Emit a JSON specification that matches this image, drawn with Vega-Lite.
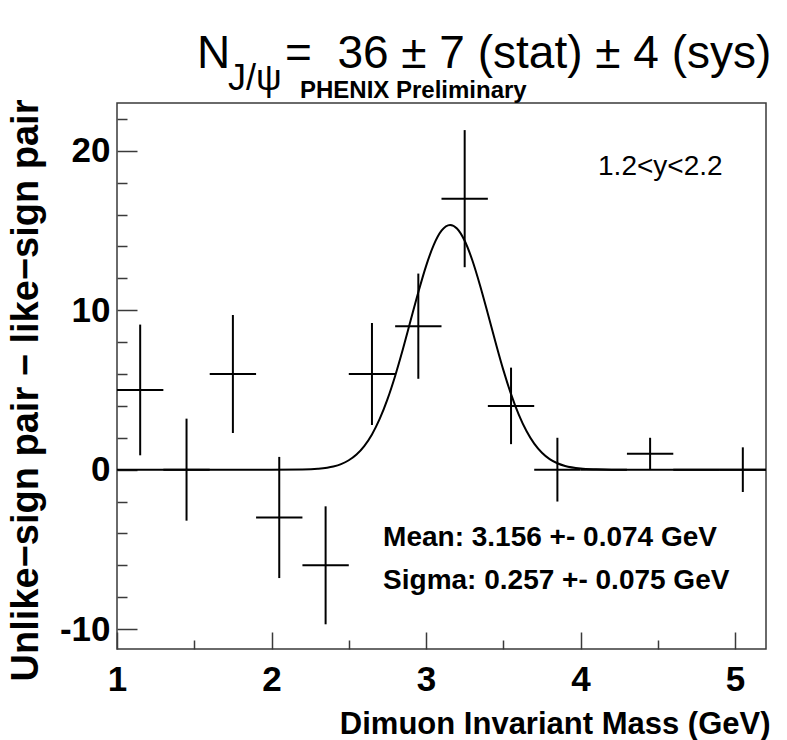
{
  "$schema": "https://vega.github.io/schema/vega-lite/v6.json",
  "width": 649,
  "height": 546,
  "autosize": "none",
  "padding": {"left": 117, "top": 103, "right": 21, "bottom": 91},
  "background": "white",
  "config": {
    "view": {"stroke": "#3a3a3a", "strokeWidth": 1.5},
    "axis": {"grid": false, "domain": false, "tickColor": "#3a3a3a", "tickWidth": 1.5, "labelColor": "black", "titleColor": "black"}
  },
  "datasets": {
    "fit": [
      {"mass": 1.0, "counts": 0}, {"mass": 2.0, "counts": 0}, {"mass": 2.2, "counts": 0.015},
      {"mass": 2.3, "counts": 0.06}, {"mass": 2.4, "counts": 0.2}, {"mass": 2.45, "counts": 0.35},
      {"mass": 2.5, "counts": 0.59}, {"mass": 2.55, "counts": 0.95}, {"mass": 2.6, "counts": 1.48},
      {"mass": 2.65, "counts": 2.21}, {"mass": 2.7, "counts": 3.18}, {"mass": 2.75, "counts": 4.41},
      {"mass": 2.8, "counts": 5.88}, {"mass": 2.85, "counts": 7.55}, {"mass": 2.9, "counts": 9.35},
      {"mass": 2.95, "counts": 11.13}, {"mass": 3.0, "counts": 12.77}, {"mass": 3.05, "counts": 14.1},
      {"mass": 3.1, "counts": 14.99}, {"mass": 3.156, "counts": 15.35}, {"mass": 3.2, "counts": 15.13},
      {"mass": 3.25, "counts": 14.36}, {"mass": 3.3, "counts": 13.12}, {"mass": 3.35, "counts": 11.54},
      {"mass": 3.4, "counts": 9.78}, {"mass": 3.45, "counts": 7.98}, {"mass": 3.5, "counts": 6.26},
      {"mass": 3.55, "counts": 4.74}, {"mass": 3.6, "counts": 3.45}, {"mass": 3.65, "counts": 2.42},
      {"mass": 3.7, "counts": 1.63}, {"mass": 3.75, "counts": 1.06}, {"mass": 3.8, "counts": 0.66},
      {"mass": 3.85, "counts": 0.4}, {"mass": 3.9, "counts": 0.23}, {"mass": 4.0, "counts": 0.07},
      {"mass": 4.1, "counts": 0.02}, {"mass": 4.2, "counts": 0}, {"mass": 5.2, "counts": 0}
    ],
    "bins": [
      {"mass": 1.15, "lo_mass": 1.0, "hi_mass": 1.3, "counts": 5, "lo": 0.9, "hi": 9.1},
      {"mass": 1.45, "lo_mass": 1.3, "hi_mass": 1.6, "counts": 0, "lo": -3.2, "hi": 3.2},
      {"mass": 1.75, "lo_mass": 1.6, "hi_mass": 1.9, "counts": 6, "lo": 2.3, "hi": 9.7},
      {"mass": 2.05, "lo_mass": 1.9, "hi_mass": 2.2, "counts": -3, "lo": -6.8, "hi": 0.8},
      {"mass": 2.35, "lo_mass": 2.2, "hi_mass": 2.5, "counts": -6, "lo": -9.7, "hi": -2.3},
      {"mass": 2.65, "lo_mass": 2.5, "hi_mass": 2.8, "counts": 6, "lo": 2.8, "hi": 9.2},
      {"mass": 2.95, "lo_mass": 2.8, "hi_mass": 3.1, "counts": 9, "lo": 5.7, "hi": 12.3},
      {"mass": 3.25, "lo_mass": 3.1, "hi_mass": 3.4, "counts": 17, "lo": 12.7, "hi": 21.3},
      {"mass": 3.55, "lo_mass": 3.4, "hi_mass": 3.7, "counts": 4, "lo": 1.6, "hi": 6.4},
      {"mass": 3.85, "lo_mass": 3.7, "hi_mass": 4.0, "counts": 0, "lo": -2.0, "hi": 2.0},
      {"mass": 4.15, "lo_mass": 4.0, "hi_mass": 4.3, "counts": 0, "lo": 0, "hi": 0},
      {"mass": 4.45, "lo_mass": 4.3, "hi_mass": 4.6, "counts": 1, "lo": 0, "hi": 2.0},
      {"mass": 4.75, "lo_mass": 4.6, "hi_mass": 4.9, "counts": 0, "lo": 0, "hi": 0},
      {"mass": 5.05, "lo_mass": 4.9, "hi_mass": 5.2, "counts": 0, "lo": -1.4, "hi": 1.4}
    ]
  },
  "layer": [
    {
      "data": {"name": "fit"},
      "mark": {"type": "line", "color": "black", "strokeWidth": 2, "interpolate": "monotone"},
      "encoding": {
        "x": {
          "field": "mass", "type": "quantitative",
          "scale": {"domain": [1, 5.2], "nice": false, "zero": false},
          "axis": {
            "orient": "bottom", "values": [1, 2, 3, 4, 5], "tickSize": -17,
            "labelFont": "Liberation Sans", "labelFontWeight": "bold", "labelFontSize": 35,
            "labelPadding": 30, "labelFlush": false, "labelOverlap": false, "labelBaseline": "top",
            "format": "d",
            "title": "Dimuon Invariant Mass (GeV)",
            "titleFont": "Liberation Sans", "titleFontWeight": "bold", "titleFontSize": 31,
            "titleAlign": "right", "titleAnchor": "end", "titleBaseline": "alphabetic",
            "titleX": 653, "titleY": 84
          }
        },
        "y": {
          "field": "counts", "type": "quantitative",
          "scale": {"domain": [-11.25, 23], "nice": false, "zero": false},
          "axis": {
            "orient": "left", "values": [-10, 0, 10, 20], "tickSize": -20,
            "labelFont": "Liberation Sans", "labelFontWeight": "bold", "labelFontSize": 35,
            "labelPadding": 27, "labelFlush": false, "labelOverlap": false,
            "labelExpr": "datum.value < 0 ? '-' + abs(datum.value) : '' + datum.value",
            "title": "Unlike\u2212sign pair \u2212 like\u2212sign pair",
            "titleFont": "Liberation Sans", "titleFontWeight": "bold", "titleFontSize": 38,
            "titleAngle": 270, "titleAlign": "center", "titleAnchor": null, "titleBaseline": "alphabetic",
            "titleX": -80, "titleY": 287
          }
        }
      }
    },
    {
      "data": {"name": "bins"},
      "mark": {"type": "rule", "color": "black", "strokeWidth": 2},
      "encoding": {
        "x": {
          "field": "mass", "type": "quantitative",
          "axis": {"orient": "bottom", "values": [1.5, 2.5, 3.5, 4.5], "tickSize": -9, "labels": false, "title": null}
        },
        "y": {
          "field": "lo", "type": "quantitative",
          "axis": {"orient": "left", "values": [-8, -6, -4, -2, 2, 4, 6, 8, 12, 14, 16, 18, 22], "tickSize": -10, "labels": false, "title": null}
        },
        "y2": {"field": "hi"}
      }
    },
    {
      "data": {"name": "bins"},
      "mark": {"type": "rule", "color": "black", "strokeWidth": 2},
      "encoding": {
        "x": {"field": "lo_mass", "type": "quantitative", "axis": null},
        "x2": {"field": "hi_mass"},
        "y": {"field": "counts", "type": "quantitative", "axis": null}
      }
    },
    {
      "data": {"values": [{"note": "1.2<y<2.2"}]},
      "mark": {"type": "text", "font": "Liberation Sans", "fontSize": 28, "align": "left", "baseline": "alphabetic", "color": "black"},
      "encoding": {
        "text": {"field": "note"},
        "x": {"datum": 4.113, "type": "quantitative", "axis": null},
        "y": {"datum": 18.48, "type": "quantitative", "axis": null}
      }
    },
    {
      "data": {"values": [{"note": "Mean: 3.156 +- 0.074 GeV"}]},
      "mark": {"type": "text", "font": "Liberation Sans", "fontWeight": "bold", "fontSize": 28, "align": "left", "baseline": "alphabetic", "color": "black"},
      "encoding": {
        "text": {"field": "note"},
        "x": {"datum": 2.722, "type": "quantitative", "axis": null},
        "y": {"datum": -4.79, "type": "quantitative", "axis": null}
      }
    },
    {
      "data": {"values": [{"note": "Sigma: 0.257 +- 0.075 GeV"}]},
      "mark": {"type": "text", "font": "Liberation Sans", "fontWeight": "bold", "fontSize": 28, "align": "left", "baseline": "alphabetic", "color": "black"},
      "encoding": {
        "text": {"field": "note"},
        "x": {"datum": 2.722, "type": "quantitative", "axis": null},
        "y": {"datum": -7.49, "type": "quantitative", "axis": null}
      }
    },
    {
      "data": {"values": [{"note": "PHENIX Preliminary"}]},
      "mark": {"type": "text", "font": "Liberation Sans", "fontWeight": "bold", "fontSize": 24, "align": "left", "baseline": "alphabetic", "color": "black"},
      "encoding": {
        "text": {"field": "note"},
        "x": {"datum": 2.184, "type": "quantitative", "axis": null},
        "y": {"datum": 23.31, "type": "quantitative", "axis": null}
      }
    },
    {
      "data": {"values": [{"note": "N"}]},
      "mark": {"type": "text", "font": "Liberation Sans", "fontSize": 46, "align": "left", "baseline": "alphabetic", "color": "black"},
      "encoding": {
        "text": {"field": "note"},
        "x": {"datum": 1.518, "type": "quantitative", "axis": null},
        "y": {"datum": 25.2, "type": "quantitative", "axis": null}
      }
    },
    {
      "data": {"values": [{"note": "J/\u03c8"}]},
      "mark": {"type": "text", "font": "Liberation Sans", "fontSize": 36, "align": "left", "baseline": "alphabetic", "color": "black"},
      "encoding": {
        "text": {"field": "note"},
        "x": {"datum": 1.718, "type": "quantitative", "axis": null},
        "y": {"datum": 23.82, "type": "quantitative", "axis": null}
      }
    },
    {
      "data": {"values": [{"note": "=\u00a0 36 \u00b1 7 (stat) \u00b1 4 (sys)"}]},
      "mark": {"type": "text", "font": "Liberation Sans", "fontSize": 46, "align": "left", "baseline": "alphabetic", "color": "black"},
      "encoding": {
        "text": {"field": "note"},
        "x": {"datum": 2.087, "type": "quantitative", "axis": null},
        "y": {"datum": 25.2, "type": "quantitative", "axis": null}
      }
    }
  ],
  "resolve": {"axis": {"x": "independent", "y": "independent"}}
}
